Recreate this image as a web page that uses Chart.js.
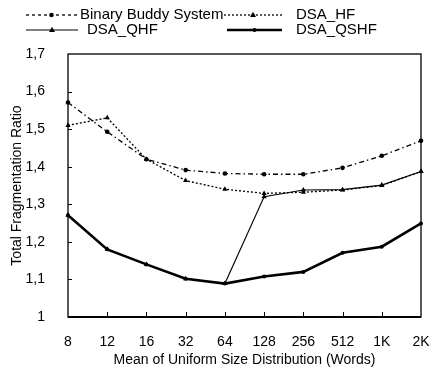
<!DOCTYPE html>
<html>
<head>
<meta charset="utf-8">
<script src="https://cdn.jsdelivr.net/npm/chart.js@4/dist/chart.umd.min.js"></script>
<style>
  html, body { margin: 0; padding: 0; background: #fff; }
  #wrap { width: 440px; height: 381px; }
</style>
</head>
<body>
<div id="wrap"><canvas id="chart" width="440" height="381"></canvas></div>
<script>
// Mean block size of the uniform request distribution (words)
const categories = ['8', '12', '16', '32', '64', '128', '256', '512', '1K', '2K'];

// Total fragmentation ratio per allocator
const binaryBuddy = [1.571, 1.493, 1.420, 1.391, 1.382, 1.380, 1.380, 1.397, 1.429, 1.469];
const dsaHF       = [1.510, 1.530, 1.420, 1.363, 1.340, 1.329, 1.332, 1.338, 1.350, 1.387];
const dsaQHF      = [1.271, 1.180, 1.140, 1.102, 1.089, 1.320, 1.338, 1.339, 1.351, 1.387];
const dsaQSHF     = [1.271, 1.180, 1.140, 1.102, 1.089, 1.108, 1.120, 1.171, 1.187, 1.249];

const yMin = 1.0, yMax = 1.7, yStep = 0.1;

const FONT = '"Liberation Sans", Arial, Helvetica, sans-serif';

// Legend entries: two rows, two columns
const legendLayout = [
  { sx: 26, ex: 77, tx: 80, y: 15 },
  { sx: 224, ex: 282, tx: 296, y: 15 },
  { sx: 26, ex: 78, tx: 87, y: 30 },
  { sx: 227, ex: 282, tx: 296, y: 30 }
];

function drawMarker(ctx, style, x, y, r) {
  ctx.save();
  ctx.fillStyle = '#000';
  ctx.beginPath();
  if (style === 'triangle') {
    ctx.moveTo(x, y - r * 1.1);
    ctx.lineTo(x + r, y + r * 0.7);
    ctx.lineTo(x - r, y + r * 0.7);
    ctx.closePath();
  } else {
    ctx.arc(x, y, r, 0, Math.PI * 2);
  }
  ctx.fill();
  ctx.restore();
}

const frameAndLegend = {
  id: 'frameAndLegend',
  afterDatasetsDraw(chart) {
    const { ctx, chartArea: a, scales } = chart;
    ctx.save();
    // plot frame
    ctx.strokeStyle = '#000';
    ctx.lineWidth = 1.3;
    ctx.strokeRect(a.left, a.top, a.right - a.left, a.bottom - a.top);
    ctx.lineWidth = 2;
    ctx.beginPath();
    ctx.moveTo(a.left, a.bottom);
    ctx.lineTo(a.right, a.bottom);
    ctx.stroke();
    // inward tick marks
    ctx.lineWidth = 1;
    scales.y.ticks.forEach(t => {
      if (t.value <= yMin + 1e-9 || t.value >= yMax - 1e-9) return;
      const py = Math.round(scales.y.getPixelForValue(t.value)) + 0.5;
      ctx.beginPath();
      ctx.moveTo(a.left, py);
      ctx.lineTo(a.left + 4, py);
      ctx.stroke();
    });
    categories.forEach((c, i) => {
      if (i === 0 || i === categories.length - 1) return;
      const px = Math.round(scales.x.getPixelForValue(i)) + 0.5;
      ctx.beginPath();
      ctx.moveTo(px, a.bottom);
      ctx.lineTo(px, a.bottom - 5);
      ctx.stroke();
    });
    ctx.restore();
  },
  afterDraw(chart) {
    const { ctx } = chart;
    ctx.save();
    chart.data.datasets.forEach((ds, i) => {
      const L = legendLayout[i];
      ctx.strokeStyle = '#000';
      ctx.lineWidth = ds.borderWidth;
      ctx.setLineDash(ds.legendDash || ds.borderDash || []);
      ctx.beginPath();
      ctx.moveTo(L.sx, L.y);
      ctx.lineTo(L.ex, L.y);
      ctx.stroke();
      ctx.setLineDash([]);
      drawMarker(ctx, ds.pointStyle, (L.sx + L.ex) / 2, L.y, ds.pointRadius);
      ctx.fillStyle = '#000';
      ctx.font = '15px ' + FONT;
      ctx.textBaseline = 'middle';
      ctx.textAlign = 'left';
      ctx.fillText(ds.label, L.tx, L.y);
    });
    ctx.restore();
  }
};

const common = {
  borderColor: '#000',
  backgroundColor: '#000',
  pointBackgroundColor: '#000',
  pointBorderColor: '#000',
  pointBorderWidth: 0,
  tension: 0,
  fill: false,
  clip: false
};

new Chart(document.getElementById('chart'), {
  type: 'line',
  data: {
    labels: categories,
    datasets: [
      Object.assign({}, common, {
        label: 'Binary Buddy System', data: binaryBuddy,
        borderWidth: 1.3, borderDash: [5, 3, 1.5, 3], legendDash: [3, 3],
        pointStyle: 'circle', pointRadius: 2.3
      }),
      Object.assign({}, common, {
        label: 'DSA_HF', data: dsaHF,
        borderWidth: 1.3, borderDash: [2, 2],
        pointStyle: 'triangle', pointRadius: 3
      }),
      Object.assign({}, common, {
        label: 'DSA_QHF', data: dsaQHF,
        borderWidth: 1.1, borderDash: [],
        pointStyle: 'triangle', pointRadius: 3
      }),
      Object.assign({}, common, {
        label: 'DSA_QSHF', data: dsaQSHF,
        borderWidth: 2.6, borderDash: [],
        pointStyle: 'circle', pointRadius: 2
      })
    ]
  },
  options: {
    responsive: false,
    animation: false,
    devicePixelRatio: 1,
    layout: { padding: { top: 54, right: 19, left: 0, bottom: 0 } },
    plugins: {
      legend: { display: false },
      tooltip: { enabled: false }
    },
    scales: {
      x: {
        type: 'category',
        offset: false,
        grid: { display: false },
        border: { display: false },
        ticks: {
          color: '#000', padding: 9, maxRotation: 0, autoSkip: false,
          font: { family: FONT, size: 14 }
        },
        title: {
          display: true, text: 'Mean of Uniform Size Distribution (Words)',
          color: '#000', font: { family: FONT, size: 14 },
          padding: { top: 0, bottom: 12 }
        },
        afterFit(scale) { scale.height = 64; }
      },
      y: {
        min: yMin, max: yMax,
        grid: { display: false },
        border: { display: false },
        ticks: {
          stepSize: yStep, color: '#000', padding: 15,
          font: { family: FONT, size: 14 },
          callback(v) {
            const r = Math.round(v * 10) / 10;
            return r === 1 ? '1' : r.toFixed(1).replace('.', ',');
          }
        },
        title: {
          display: true, text: 'Total Fragmentation Ratio',
          color: '#000', font: { family: FONT, size: 14 },
          padding: { top: 9, bottom: 0 }
        },
        afterFit(scale) { scale.width = 68; }
      }
    }
  },
  plugins: [frameAndLegend]
});
</script>
</body>
</html>
